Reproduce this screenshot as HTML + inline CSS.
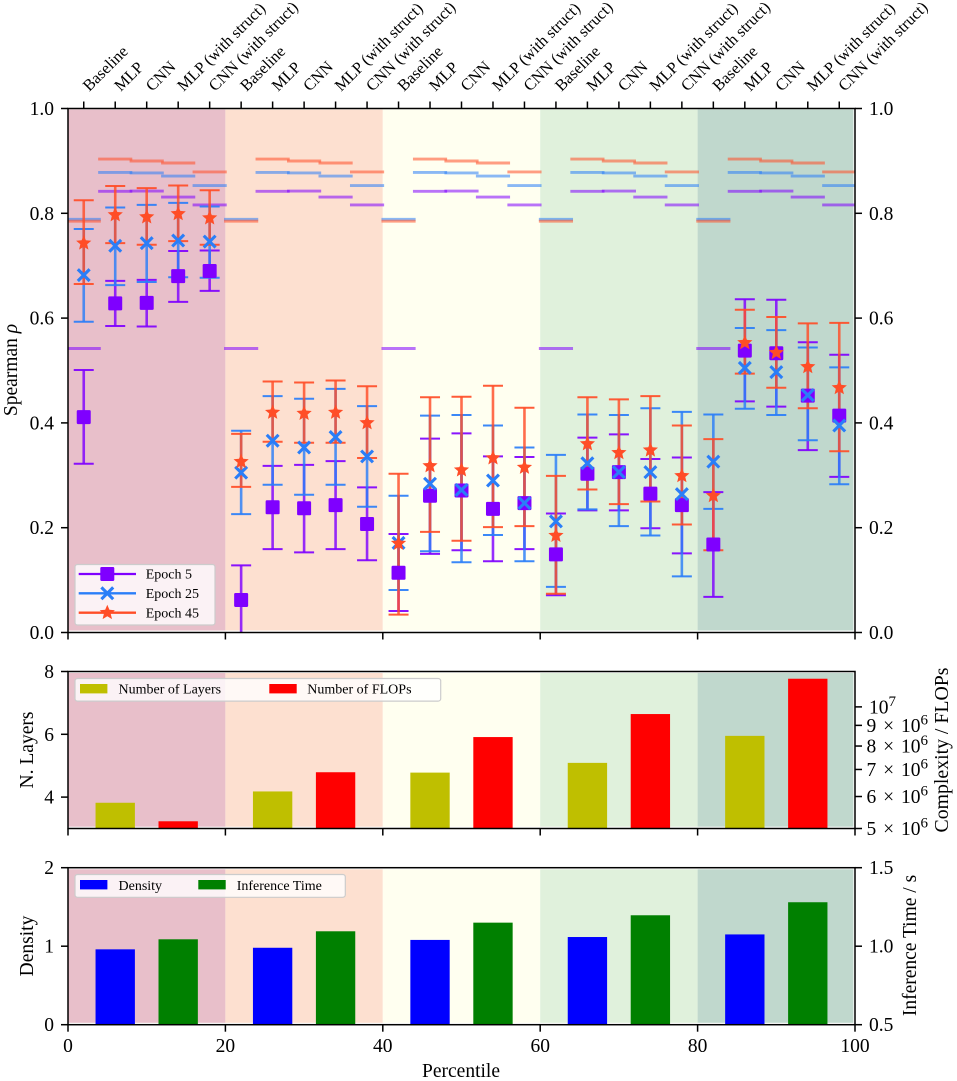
<!DOCTYPE html>
<html lang="en">
<head>
<meta charset="utf-8">
<title>Spearman correlation by percentile</title>
<style>
html,body{margin:0;padding:0;background:#fff;}
svg{display:block;}
text{font-family:"Liberation Serif",serif;fill:#000;}
</style>
</head>
<body>
<svg id="fig" xmlns="http://www.w3.org/2000/svg" width="957" height="1081" viewBox="0 0 957 1081">
  <defs>
    <clipPath id="clip-main"><rect x="68" y="108.5" width="787" height="524"/></clipPath>
  </defs>
  <g id="bands"></g>
  <g id="hlines" clip-path="url(#clip-main)"></g>
  <g id="series" clip-path="url(#clip-main)"></g>
  <g id="bars"></g>
  <g id="axes"></g>
  <g id="legends"></g>

  <text transform="translate(17,370) rotate(-90)" text-anchor="middle" font-size="19.5">Spearman <tspan font-style="italic">ρ</tspan></text>
  <text transform="translate(33,750) rotate(-90)" text-anchor="middle" font-size="19.5">N. Layers</text>
  <text transform="translate(33,946) rotate(-90)" text-anchor="middle" font-size="19.5">Density</text>
  <text transform="translate(948,750) rotate(-90)" text-anchor="middle" font-size="19.8">Complexity / FLOPs</text>
  <text transform="translate(916,945.5) rotate(-90)" text-anchor="middle" font-size="19.5">Inference Time / s</text>
  <text x="461" y="1077" text-anchor="middle" font-size="19.5">Percentile</text>
</svg>

<script>
/* ---------- data ---------- */
const modelNames = ["Baseline", "MLP", "CNN", "MLP (with struct)", "CNN (with struct)"];
const bandCount = 5;
const percentileTicks = [0, 20, 40, 60, 80, 100];
const bandStarts = [0, 20, 40, 60, 80];
const bandColors = ["#e8bfca", "#fde0d0", "#fffff0", "#e0f1dc", "#c0d8cd"];

const epoch5Mean = [0.411,0.628,0.629,0.680,0.690, 0.062,0.239,0.237,0.243,0.207, 0.114,0.261,0.271,0.236,0.247, 0.149,0.303,0.306,0.265,0.243, 0.168,0.538,0.533,0.452,0.414];
const epoch5Low  = [0.322,0.585,0.584,0.631,0.652, -0.004,0.159,0.153,0.159,0.138, 0.041,0.150,0.157,0.136,0.159, 0.071,0.233,0.233,0.199,0.151, 0.068,0.441,0.431,0.348,0.297];
const epoch5High = [0.501,0.671,0.673,0.728,0.729, 0.128,0.318,0.320,0.327,0.277, 0.188,0.370,0.380,0.336,0.335, 0.227,0.372,0.378,0.331,0.334, 0.268,0.636,0.635,0.554,0.530];

const epoch25Mean = [0.682,0.738,0.743,0.748,0.746, 0.305,0.366,0.353,0.373,0.336, 0.171,0.284,0.272,0.290,0.247, 0.212,0.323,0.306,0.306,0.264, 0.326,0.505,0.497,0.453,0.395];
const epoch25Low  = [0.593,0.663,0.669,0.678,0.677, 0.226,0.282,0.263,0.282,0.240, 0.081,0.155,0.134,0.186,0.136, 0.087,0.235,0.203,0.185,0.107, 0.236,0.427,0.415,0.367,0.283];
const epoch25High = [0.770,0.811,0.816,0.820,0.813, 0.385,0.451,0.446,0.465,0.432, 0.261,0.414,0.415,0.395,0.353, 0.339,0.416,0.415,0.428,0.421, 0.416,0.581,0.577,0.544,0.506];

const epoch45Mean = [0.743,0.797,0.793,0.799,0.791, 0.326,0.420,0.418,0.420,0.400, 0.170,0.318,0.310,0.333,0.315, 0.185,0.360,0.343,0.348,0.299, 0.261,0.553,0.534,0.507,0.467];
const epoch45Low  = [0.665,0.743,0.740,0.747,0.740, 0.278,0.364,0.362,0.362,0.333, 0.034,0.192,0.175,0.201,0.203, 0.074,0.273,0.245,0.250,0.206, 0.157,0.494,0.467,0.428,0.346];
const epoch45High = [0.825,0.852,0.848,0.853,0.844, 0.379,0.479,0.477,0.481,0.470, 0.303,0.449,0.450,0.471,0.429, 0.299,0.449,0.445,0.451,0.395, 0.369,0.616,0.602,0.590,0.591];

const finalEpoch5  = [0.542,0.842,0.8425,0.831,0.816];
const finalEpoch25 = [0.7885,0.878,0.877,0.871,0.853];
const finalEpoch45 = [0.785,0.9036,0.8998,0.896,0.879];

const barPercentilesA = [6, 26, 46, 66, 86];
const barPercentilesB = [14, 34, 54, 74, 94];
const layerValues   = [3.82, 4.18, 4.78, 5.09, 5.95];
const flopValues    = [5.21e6, 6.89e6, 8.42e6, 9.6e6, 1.174e7];
const densityValues = [0.96, 0.98, 1.08, 1.117, 1.15];
const timeValues    = [1.044, 1.095, 1.15, 1.197, 1.28];

const spearmanTicks = [0.0, 0.2, 0.4, 0.6, 0.8, 1.0];
const layerTicks    = [4, 6, 8];
const flopMantissas = [5, 6, 7, 8, 9];
const flopTenPower  = 7;
const densityTicks  = [0, 1, 2];
const timeTicks     = [0.5, 1.0, 1.5];

/* ---------- scales ---------- */
const xScale    = p => 68 + p * 7.87;
const yMain     = v => 632.5 - v * 524;
const yLayers   = v => 671.5 + (8 - v) * 31.4;
const yFlops    = v => 828.5 - 404 * Math.log10(v / 5e6);
const yDensity  = v => 1024.7 - v * 78.5;
const yTime     = v => 1024.7 - (v - 0.5) * 157;

/* ---------- helpers ---------- */
const NS = "http://www.w3.org/2000/svg";
function make(tag, parent, attrs) {
  const el = document.createElementNS(NS, tag);
  for (const k in attrs) el.setAttribute(k, attrs[k]);
  parent.appendChild(el);
  return el;
}
const gBands = document.getElementById("bands");
const gHlines = document.getElementById("hlines");
const gSeries = document.getElementById("series");
const gBars = document.getElementById("bars");
const gAxes = document.getElementById("axes");
const gLegends = document.getElementById("legends");

const PANELS = [
  {top: 108.5, bottom: 632.5, bandTop: 109.5, bandBottom: 630.5},
  {top: 671.5, bottom: 828.5, bandTop: 673, bandBottom: 826.7},
  {top: 867.7, bottom: 1024.7, bandTop: 869.3, bandBottom: 1022.8}
];

/* ---------- bands ---------- */
PANELS.forEach(panel => {
  bandStarts.forEach((start, i) => {
    const right = i === bandStarts.length - 1 ? xScale(100) - 1.6 : xScale(start + 20);
    const band = make("rect", gBands, {x: xScale(start), y: panel.bandTop, width: right - xScale(start), height: panel.bandBottom - panel.bandTop, fill: bandColors[i]});
    
    
  });
});

/* ---------- reference lines ---------- */
const seriesStyles = [
  {name: "epoch-5", color: "#7f00ff", mean: epoch5Mean, low: epoch5Low, high: epoch5High, finals: finalEpoch5, marker: "square"},
  {name: "epoch-25", color: "#2a7ef8", mean: epoch25Mean, low: epoch25Low, high: epoch25High, finals: finalEpoch25, marker: "cross"},
  {name: "epoch-45", color: "#ff4d27", mean: epoch45Mean, low: epoch45Low, high: epoch45High, finals: finalEpoch45, marker: "star"}
];
const groupPercentile = i => 2 + i * 4;

seriesStyles.forEach(s => {
  for (let band = 0; band < bandCount; band++) {
    s.finals.forEach((value, m) => {
      const p = groupPercentile(band * modelNames.length + m);
      const seg = make("line", gHlines, {x1: xScale(p - 2.17), x2: xScale(p + 2.17), y1: yMain(value), y2: yMain(value), stroke: s.color, "stroke-width": 2.9, "stroke-opacity": 0.55});
      
      
    });
  }
});

/* ---------- markers ---------- */
function drawMarker(kind, parent, cx, cy, color) {
  if (kind === "square") {
    const m = make("rect", parent, {x: cx - 7, y: cy - 7, width: 14, height: 14, rx: 1.2, fill: color});
    
    
  } else if (kind === "cross") {
    const r = 5.9;
    const m = make("path", parent, {d: `M${cx - r} ${cy - r}L${cx + r} ${cy + r}M${cx - r} ${cy + r}L${cx + r} ${cy - r}`, stroke: color, "stroke-width": 3.1, fill: "none"});
    
    
  } else {
    const pts = [];
    for (let k = 0; k < 10; k++) {
      const radius = k % 2 === 0 ? 8 : 3.6;
      const angle = -Math.PI / 2 + k * Math.PI / 5;
      pts.push((cx + radius * Math.cos(angle)).toFixed(2) + "," + (cy + radius * Math.sin(angle)).toFixed(2));
    }
    const m = make("polygon", parent, {points: pts.join(" "), fill: color});
    
    
  }
}

/* ---------- error bars and means ---------- */
seriesStyles.forEach(s => {
  const group = make("g", gSeries, {});
  
  
  s.mean.forEach((value, i) => {
    const x = xScale(groupPercentile(i));
    const stem = make("line", group, {x1: x, x2: x, y1: yMain(s.low[i]), y2: yMain(s.high[i]), stroke: s.color, "stroke-width": 2.6, "stroke-opacity": 0.82});
    
    
    [s.low[i], s.high[i]].forEach(v => {
      const cap = make("line", group, {x1: x - 10, x2: x + 10, y1: yMain(v), y2: yMain(v), stroke: s.color, "stroke-width": 2, "stroke-opacity": 0.92});
      
      
    });
  });
});
seriesStyles.forEach(s => {
  s.mean.forEach((value, i) => {
    drawMarker(s.marker, gSeries, xScale(groupPercentile(i)), yMain(value), s.color);
  });
});

/* ---------- bars ---------- */
function drawBars(percentiles, values, yFn, baseY, color, name) {
  values.forEach((value, i) => {
    const p = percentiles[i];
    const top = yFn(value);
    const bar = make("rect", gBars, {x: xScale(p - 2.5), y: top, width: xScale(p + 2.5) - xScale(p - 2.5), height: baseY - top, fill: color});
    
    
  });
}
drawBars(barPercentilesA, layerValues, yLayers, PANELS[1].bottom, "#bfbf00", "layers-bar");
drawBars(barPercentilesB, flopValues, yFlops, PANELS[1].bottom, "#ff0000", "flops-bar");
drawBars(barPercentilesA, densityValues, yDensity, PANELS[2].bottom, "#0000ff", "density-bar");
drawBars(barPercentilesB, timeValues, yTime, PANELS[2].bottom, "#008000", "inference-time-bar");

/* ---------- axes ---------- */
const TICK = 7;
function tickLine(x1, y1, x2, y2) {
  const t = make("line", gAxes, {x1, y1, x2, y2, stroke: "#000", "stroke-width": 1.5});
  
  
}
function tickText(str, x, y, anchor, size) {
  const t = make("text", gAxes, {x, y, "text-anchor": anchor, "font-size": size});
  t.textContent = str;
  
  
  return t;
}
PANELS.forEach(panel => {
  const frame = make("rect", gAxes, {x: xScale(0), y: panel.top, width: xScale(100) - xScale(0), height: panel.bottom - panel.top, fill: "none", stroke: "#000", "stroke-width": 1.5});
  
  
  percentileTicks.forEach(p => tickLine(xScale(p), panel.bottom, xScale(p), panel.bottom + TICK));
});
percentileTicks.forEach(p => tickText(String(p), xScale(p), 1052, "middle", 19.5));

/* top axis */
for (let i = 0; i < bandCount * modelNames.length; i++) {
  const x = xScale(groupPercentile(i));
  tickLine(x, PANELS[0].top, x, PANELS[0].top - TICK);
  const label = make("text", gAxes, {transform: `translate(${x + 5.5},92) rotate(-45)`, "font-size": 16.3});
  label.textContent = modelNames[i % modelNames.length];
  
  
}

/* main y axis, both sides */
spearmanTicks.forEach(v => {
  const y = yMain(v);
  tickLine(xScale(0), y, xScale(0) - TICK, y);
  tickLine(xScale(100), y, xScale(100) + TICK, y);
  tickText(v.toFixed(1), 54, y + 6.5, "end", 19.5);
  tickText(v.toFixed(1), 869, y + 6.5, "start", 19.5);
});
/* layers axis */
layerTicks.forEach(v => {
  const y = yLayers(v);
  tickLine(xScale(0), y, xScale(0) - TICK, y);
  tickText(String(v), 54, y + 6.5, "end", 19.5);
});
/* FLOPs log axis */
flopMantissas.forEach(m => {
  const value = m * Math.pow(10, flopTenPower - 1);
  const y = yFlops(value);
  tickLine(xScale(100), y, xScale(100) + TICK, y);
  const t = tickText("", 866.5, y + 6.5, "start", 19.5);
  t.setAttribute("word-spacing", "2");
  t.textContent = m + " × 10";
  const sup = make("tspan", t, {dy: -7.5, "font-size": 15});
  sup.textContent = String(flopTenPower - 1);
});
{
  const y = yFlops(Math.pow(10, flopTenPower));
  tickLine(xScale(100), y, xScale(100) + TICK, y);
  const t = tickText("10", 869, y + 6.5, "start", 19.5);
  const sup = make("tspan", t, {dy: -7.5, "font-size": 15});
  sup.textContent = String(flopTenPower);
}
/* density axis */
densityTicks.forEach(v => {
  const y = yDensity(v);
  tickLine(xScale(0), y, xScale(0) - TICK, y);
  tickText(String(v), 54, y + 6.5, "end", 19.5);
});
/* time axis */
timeTicks.forEach(v => {
  const y = yTime(v);
  tickLine(xScale(100), y, xScale(100) + TICK, y);
  tickText(v.toFixed(1), 869, y + 6.5, "start", 19.5);
});

/* ---------- legends ---------- */
function legendBox(x, y, w, h, name) {
  const box = make("rect", gLegends, {x, y, width: w, height: h, rx: 2.5, fill: "#fff", "fill-opacity": 0.8, stroke: "#cccccc", "stroke-width": 1.2});
  
  
}
function legendText(str, x, y) {
  const t = make("text", gLegends, {x, y, "font-size": 14});
  t.textContent = str;
  
  
}
function legendPatch(x, y, color) {
  const p = make("rect", gLegends, {x, y, width: 27.4, height: 9.4, fill: color});
  
  
}
legendBox(75, 564.5, 140, 60.5, 'epoch-legend');
const epochLegendLabels = ["Epoch 5", "Epoch 25", "Epoch 45"];
const epochLegendRows = [574, 593.3, 612.7];
seriesStyles.forEach((s, i) => {
  const y = epochLegendRows[i];
  const l = make("line", gLegends, {x1: 78.7, x2: 136, y1: y, y2: y, stroke: s.color, "stroke-width": 2.3});
  
  
  drawMarker(s.marker, gLegends, 107.3, y, s.color);
  legendText(epochLegendLabels[i], 145.7, y + 4.7);
});

legendBox(75, 678.5, 365.7, 22.6, 'complexity-legend');
legendPatch(80, 684, "#bfbf00");
legendText("Number of Layers", 118.5, 693.6);
legendPatch(269.3, 684, "#ff0000");
legendText("Number of FLOPs", 307.3, 693.6);

legendBox(75, 874.5, 270.3, 22.8, 'density-legend');
legendPatch(80, 880, "#0000ff");
legendText("Density", 118.5, 889.8);
legendPatch(198.3, 880, "#008000");
legendText("Inference Time", 236.7, 889.8);
</script>
</body>
</html>
